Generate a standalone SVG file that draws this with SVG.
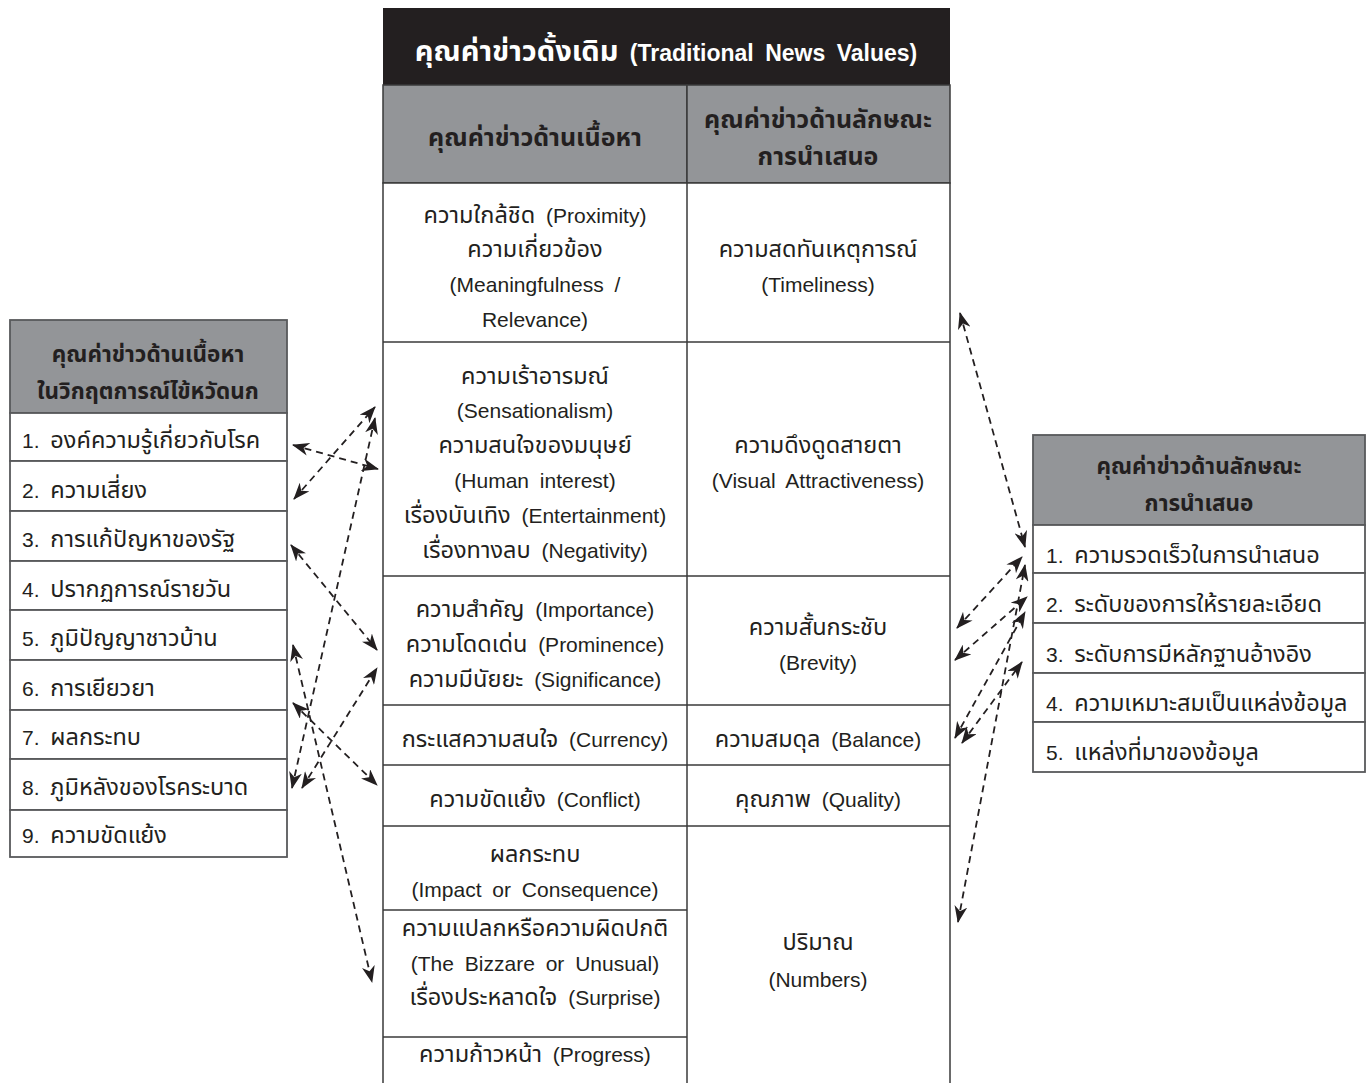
<svg xmlns="http://www.w3.org/2000/svg" width="1371" height="1083" viewBox="0 0 1371 1083">
<defs>
<style>
text{font-family:"Liberation Sans","Noto Sans Thai","Noto Sans",sans-serif;fill:#231f20;font-size:21px;word-spacing:5px}
.t{font-size:23.5px}
.c{text-anchor:middle}
.b{font-weight:bold}
.w{fill:#ffffff}
.h1{font-size:23px}
.h1t{font-size:29px}
.h2t{font-size:25px}
.h3t{font-size:22.5px}
.gray{fill:#939598}
.cell{fill:#ffffff;stroke:#3a3a3a;stroke-width:1.5}
.lb{fill:#ffffff;stroke:#58595b;stroke-width:1.8}
.hd{fill:#939598;stroke:#58595b;stroke-width:1.8}
.ln{stroke:#3a3a3a;stroke-width:1.5;fill:none}
.con{stroke:#231f20;stroke-width:1.8;stroke-dasharray:7 5;fill:none;marker-start:url(#ah);marker-end:url(#ah)}
</style>
<marker id="ah" markerUnits="userSpaceOnUse" markerWidth="17" markerHeight="13" refX="16" refY="6.5" orient="auto-start-reverse">
<path d="M0,0 L17,6.5 L0,13 L5,6.5 z" fill="#231f20"/>
</marker>
</defs>

<g id="center-table">
<rect x="383" y="8" width="567" height="77" fill="#231f20"/>
<text class="c b w h1" x="666" y="61"><tspan class="h1t">คุณค่าข่าวดั้งเดิม</tspan> (Traditional News Values)</text>
<rect x="383" y="85" width="304" height="98" class="gray" stroke="#3a3a3a" stroke-width="1.5"/>
<rect x="687" y="85" width="263" height="98" class="gray" stroke="#3a3a3a" stroke-width="1.5"/>
<text class="c b h2t" x="535" y="146">คุณค่าข่าวด้านเนื้อหา</text>
<text class="c b h2t" x="818" y="128">คุณค่าข่าวด้านลักษณะ</text>
<text class="c b h2t" x="818" y="165">การนำเสนอ</text>
<rect x="383" y="183" width="567" height="910" class="cell"/>
<line class="ln" x1="687" y1="183" x2="687" y2="1093"/>
<line class="ln" x1="383" y1="342" x2="950" y2="342"/>
<line class="ln" x1="383" y1="576" x2="950" y2="576"/>
<line class="ln" x1="383" y1="705" x2="950" y2="705"/>
<line class="ln" x1="383" y1="765" x2="950" y2="765"/>
<line class="ln" x1="383" y1="826" x2="950" y2="826"/>
<line class="ln" x1="383" y1="910" x2="687" y2="910"/>
<line class="ln" x1="383" y1="1037" x2="687" y2="1037"/>
</g>

<g id="cell-proximity">
<text class="c" x="535" y="223"><tspan class="t">ความใกล้ชิด</tspan> (Proximity)</text>
<text class="c t" x="535" y="257">ความเกี่ยวข้อง</text>
<text class="c" x="535" y="292">(Meaningfulness /</text>
<text class="c" x="535" y="327">Relevance)</text>
</g>
<g id="cell-timeliness">
<text class="c t" x="818" y="257">ความสดทันเหตุการณ์</text>
<text class="c" x="818" y="292">(Timeliness)</text>
</g>
<g id="cell-sensationalism">
<text class="c t" x="535" y="384">ความเร้าอารมณ์</text>
<text class="c" x="535" y="418">(Sensationalism)</text>
<text class="c t" x="535" y="453">ความสนใจของมนุษย์</text>
<text class="c" x="535" y="488">(Human interest)</text>
<text class="c" x="535" y="523"><tspan class="t">เรื่องบันเทิง</tspan> (Entertainment)</text>
<text class="c" x="535" y="558"><tspan class="t">เรื่องทางลบ</tspan> (Negativity)</text>
</g>
<g id="cell-visual">
<text class="c t" x="818" y="453">ความดึงดูดสายตา</text>
<text class="c" x="818" y="488">(Visual Attractiveness)</text>
</g>
<g id="cell-importance">
<text class="c" x="535" y="617"><tspan class="t">ความสำคัญ</tspan> (Importance)</text>
<text class="c" x="535" y="652"><tspan class="t">ความโดดเด่น</tspan> (Prominence)</text>
<text class="c" x="535" y="687"><tspan class="t">ความมีนัยยะ</tspan> (Significance)</text>
</g>
<g id="cell-brevity">
<text class="c t" x="818" y="635">ความสั้นกระชับ</text>
<text class="c" x="818" y="670">(Brevity)</text>
</g>
<g id="cell-currency">
<text class="c" x="535" y="747"><tspan class="t">กระแสความสนใจ</tspan> (Currency)</text>
</g>
<g id="cell-balance">
<text class="c" x="818" y="747"><tspan class="t">ความสมดุล</tspan> (Balance)</text>
</g>
<g id="cell-conflict">
<text class="c" x="535" y="807"><tspan class="t">ความขัดแย้ง</tspan> (Conflict)</text>
</g>
<g id="cell-quality">
<text class="c" x="818" y="807"><tspan class="t">คุณภาพ</tspan> (Quality)</text>
</g>
<g id="cell-impact">
<text class="c t" x="535" y="862">ผลกระทบ</text>
<text class="c" x="535" y="897">(Impact or Consequence)</text>
</g>
<g id="cell-unusual">
<text class="c t" x="535" y="936">ความแปลกหรือความผิดปกติ</text>
<text class="c" x="535" y="971">(The Bizzare or Unusual)</text>
<text class="c" x="535" y="1005"><tspan class="t">เรื่องประหลาดใจ</tspan> (Surprise)</text>
</g>
<g id="cell-progress">
<text class="c" x="535" y="1062"><tspan class="t">ความก้าวหน้า</tspan> (Progress)</text>
</g>
<g id="cell-numbers">
<text class="c t" x="818" y="950">ปริมาณ</text>
<text class="c" x="818" y="987">(Numbers)</text>
</g>

<g id="left-box">
<rect x="10" y="320" width="277" height="93" class="hd"/>
<text class="c b h3t" x="148" y="362">คุณค่าข่าวด้านเนื้อหา</text>
<text class="c b h3t" x="148" y="399">ในวิกฤตการณ์ไข้หวัดนก</text>
<rect x="10" y="413" width="277" height="48" class="lb"/>
<rect x="10" y="461" width="277" height="50" class="lb"/>
<rect x="10" y="511" width="277" height="50" class="lb"/>
<rect x="10" y="561" width="277" height="49" class="lb"/>
<rect x="10" y="610" width="277" height="50" class="lb"/>
<rect x="10" y="660" width="277" height="50" class="lb"/>
<rect x="10" y="710" width="277" height="49" class="lb"/>
<rect x="10" y="759" width="277" height="51" class="lb"/>
<rect x="10" y="810" width="277" height="47" class="lb"/>
<text x="22" y="448">1. <tspan class="t">องค์ความรู้เกี่ยวกับโรค</tspan></text>
<text x="22" y="498">2. <tspan class="t">ความเสี่ยง</tspan></text>
<text x="22" y="547">3. <tspan class="t">การแก้ปัญหาของรัฐ</tspan></text>
<text x="22" y="597">4. <tspan class="t">ปรากฏการณ์รายวัน</tspan></text>
<text x="22" y="646">5. <tspan class="t">ภูมิปัญญาชาวบ้าน</tspan></text>
<text x="22" y="696">6. <tspan class="t">การเยียวยา</tspan></text>
<text x="22" y="745">7. <tspan class="t">ผลกระทบ</tspan></text>
<text x="22" y="795">8. <tspan class="t">ภูมิหลังของโรคระบาด</tspan></text>
<text x="22" y="843">9. <tspan class="t">ความขัดแย้ง</tspan></text>
</g>

<g id="right-box">
<rect x="1033" y="435" width="332" height="90" class="hd"/>
<text class="c b h3t" x="1199" y="474">คุณค่าข่าวด้านลักษณะ</text>
<text class="c b h3t" x="1199" y="511">การนำเสนอ</text>
<rect x="1033" y="525" width="332" height="48" class="lb"/>
<rect x="1033" y="573" width="332" height="50" class="lb"/>
<rect x="1033" y="623" width="332" height="50" class="lb"/>
<rect x="1033" y="673" width="332" height="49" class="lb"/>
<rect x="1033" y="722" width="332" height="50" class="lb"/>
<text x="1046" y="563">1. <tspan class="t">ความรวดเร็วในการนำเสนอ</tspan></text>
<text x="1046" y="612">2. <tspan class="t">ระดับของการให้รายละเอียด</tspan></text>
<text x="1046" y="662">3. <tspan class="t">ระดับการมีหลักฐานอ้างอิง</tspan></text>
<text x="1046" y="711">4. <tspan class="t">ความเหมาะสมเป็นแหล่งข้อมูล</tspan></text>
<text x="1046" y="760">5. <tspan class="t">แหล่งที่มาของข้อมูล</tspan></text>
</g>

<g id="connectors">
<line class="con" x1="293" y1="445" x2="378" y2="469"/>
<line class="con" x1="294" y1="499" x2="375" y2="407"/>
<line class="con" x1="291" y1="545" x2="377" y2="650"/>
<line class="con" x1="293" y1="645" x2="372" y2="982"/>
<line class="con" x1="293" y1="703" x2="377" y2="785"/>
<line class="con" x1="292" y1="788" x2="375" y2="418"/>
<line class="con" x1="302" y1="788" x2="377" y2="668"/>
<line class="con" x1="960" y1="313" x2="1025" y2="547"/>
<line class="con" x1="957" y1="628" x2="1022" y2="557"/>
<line class="con" x1="955" y1="660" x2="1027" y2="597"/>
<line class="con" x1="955" y1="738" x2="1025" y2="612"/>
<line class="con" x1="962" y1="743" x2="1022" y2="662"/>
<line class="con" x1="958" y1="922" x2="1025" y2="565"/>
</g>
</svg>
